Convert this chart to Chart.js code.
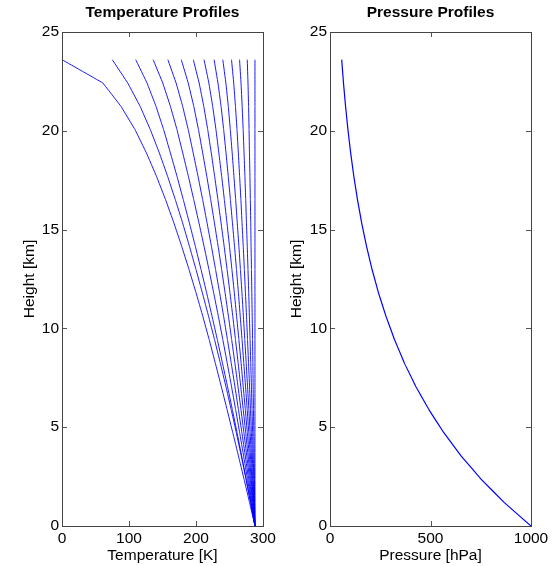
<!DOCTYPE html>
<html><head><meta charset="utf-8">
<script src="https://cdn.jsdelivr.net/npm/chart.js@4.4.0/dist/chart.umd.min.js"></script>
<style>
html,body{margin:0;padding:0;background:#fff;}
#wrap{position:relative;width:560px;height:566px;overflow:hidden;}
canvas{position:absolute;top:0;}
</style></head><body>
<div id="wrap">
<canvas id="t" width="280" height="566" style="left:0"></canvas>
<canvas id="p" width="280" height="566" style="left:280px"></canvas>
</div>
<script>
// ---------- data ----------
const heightKm = [0, 1.18, 2.36, 3.54, 4.72, 5.9, 7.08, 8.26, 9.44, 10.62, 11.8, 12.98, 14.16, 15.34, 16.52, 17.7, 18.88, 20.06, 21.24, 22.42, 23.6];

const tempK01 = [288, 280, 271.8, 263.4, 254.9, 246.3, 237.6, 228.7, 219.6, 210.1, 200.1, 189.6, 178.6, 167, 154.5, 141, 126, 109, 88, 61, 0];
const tempK02 = [288, 281.5, 274.7, 267.6, 260.2, 252.5, 244.5, 236.2, 227.6, 218.7, 209.5, 200, 190.2, 180, 169.1, 157.6, 145.3, 131.8, 116.6, 98.1, 75];
const tempK03 = [288, 281.6, 275.0, 268.2, 261.3, 254.2, 246.9, 239.4, 231.8, 223.9, 215.9, 207.5, 199, 190.1, 181, 171.6, 161.8, 151.7, 140.3, 126.9, 110];
const tempK04 = [288, 282.5, 276.9, 271.1, 265.2, 259.1, 252.9, 246.5, 240, 233.3, 226.4, 219.3, 212, 204.4, 196.6, 188.6, 180.2, 171.6, 161.8, 150.4, 136];
const tempK05 = [288, 283.3, 278.5, 273.6, 268.5, 263.3, 258, 252.5, 246.9, 241.2, 235.3, 229.2, 223, 216.5, 209.9, 203, 195.8, 188.4, 180.1, 170.3, 158];
const tempK06 = [288, 284, 280, 275.8, 271.5, 267.1, 262.6, 258, 253.2, 248.4, 243.4, 238.3, 233, 227.5, 221.9, 216.1, 210, 203.7, 196.7, 188.4, 178];
const tempK07 = [288, 284.7, 281.3, 277.8, 274.2, 270.5, 266.7, 262.9, 258.9, 254.9, 250.7, 246.4, 242, 237.4, 232.7, 227.8, 222.8, 217.5, 211.6, 204.7, 196];
const tempK08 = [288, 285.3, 282.5, 279.6, 276.6, 273.6, 270.4, 267.3, 264, 260.6, 257.2, 253.6, 250, 246.2, 242.3, 238.3, 234.1, 229.8, 224.9, 219.2, 212];
const tempK09 = [288, 285.8, 283.5, 281.2, 278.8, 276.4, 273.9, 271.3, 268.7, 266, 263.3, 260.4, 257.5, 254.4, 251.3, 248.1, 244.8, 241.3, 237.4, 232.8, 227];
const tempK10 = [288, 286.3, 284.5, 282.7, 280.8, 278.9, 276.9, 274.9, 272.8, 270.7, 268.6, 266.3, 264, 261.6, 259.2, 256.6, 254, 251.2, 248.2, 244.6, 240];
const tempK11 = [288, 286.7, 285.4, 284.1, 282.7, 281.3, 279.9, 278.4, 276.9, 275.4, 273.8, 272.2, 270.5, 268.7, 267, 265.1, 263.2, 261.2, 258.9, 256.3, 253];
const tempK12 = [288, 287.2, 286.3, 285.4, 284.5, 283.6, 282.7, 281.7, 280.7, 279.7, 278.7, 277.6, 276.5, 275.3, 274.2, 273, 271.7, 270.4, 268.9, 267.2, 265];
const tempK13 = [288, 287.6, 287.2, 286.7, 286.3, 285.8, 285.3, 284.9, 284.4, 283.9, 283.3, 282.8, 282.2, 281.7, 281.1, 280.5, 279.8, 279.2, 278.5, 277.6, 276.5];
const tempK14 = [288, 288, 288, 288, 288, 288, 288, 288, 288, 288, 288, 288, 288, 288, 288, 288, 288, 288, 288, 288, 288];

const pressureHpa = [1000, 867.5, 752.5, 652.8, 566.3, 491.2, 426.1, 369.6, 320.7, 278.2, 241.3, 209.3, 181.6, 157.5, 136.6, 118.5, 102.8, 89.2, 77.4, 67.1, 58.2];

const tempTicks = [0, 100, 200, 300];
const pressureTicks = [0, 500, 1000];
const heightTicks = [0, 5, 10, 15, 20, 25];

// ---------- helpers ----------
const FONT = "'Liberation Sans', Arial, Helvetica, sans-serif";
const BLUE = 'rgb(0,0,255)';
const toPoints = (xs, ys) => xs.map((v, i) => ({x: v, y: ys[i]}));
const plain = v => String(v);

const framePlugin = {
  id: 'frame',
  afterDatasetsDraw(chart) {
    const {ctx, chartArea: a, scales: {x, y}} = chart;
    const L = 5;
    ctx.save();
    ctx.strokeStyle = '#555';
    ctx.lineWidth = 1;
    ctx.beginPath();
    x.ticks.forEach(t => {
      const px = Math.round(x.getPixelForValue(t.value)) + 0.5;
      ctx.moveTo(px, a.bottom); ctx.lineTo(px, a.bottom - L);
      ctx.moveTo(px, a.top); ctx.lineTo(px, a.top + L);
    });
    y.ticks.forEach(t => {
      const py = Math.round(y.getPixelForValue(t.value)) + 0.5;
      ctx.moveTo(a.left, py); ctx.lineTo(a.left + L, py);
      ctx.moveTo(a.right, py); ctx.lineTo(a.right - L, py);
    });
    ctx.stroke();
    ctx.strokeStyle = '#444';
    ctx.strokeRect(a.left + 0.5, a.top + 0.5, a.right - a.left, a.bottom - a.top);
    ctx.restore();
  }
};

function makeChart(id, cfg) {
  return new Chart(document.getElementById(id), {
    type: 'scatter',
    data: {datasets: cfg.series.map(s => ({
      data: toPoints(s, heightKm),
      showLine: true, borderColor: BLUE, borderWidth: cfg.lw, pointRadius: 0,
      tension: 0.000001, fill: false
    }))},
    options: {
      responsive: false, animation: false, events: [],
      layout: {padding: {left: 0, right: cfg.padRight, top: 0, bottom: 0}},
      plugins: {
        legend: {display: false}, tooltip: {enabled: false},
        title: {display: true, text: cfg.title, fullSize: false, color: '#000',
          font: {family: FONT, size: 15.5, weight: 'bold'}, padding: {top: 3, bottom: 10.4}}
      },
      scales: {
        x: {
          type: 'linear', min: cfg.xMin, max: cfg.xMax,
          afterBuildTicks: s => { s.ticks = cfg.xTicks.map(v => ({value: v})); },
          afterFit: s => { s.height = 40; },
          grid: {display: false, drawTicks: false}, border: {display: false},
          ticks: {color: '#000', font: {family: FONT, size: 15.5}, padding: 3, maxRotation: 0, autoSkip: false, callback: plain},
          title: {display: true, text: cfg.xTitle, color: '#000', font: {family: FONT, size: 15.5}, padding: {top: 0, bottom: 0.5}}
        },
        y: {
          type: 'linear', min: 0, max: 25,
          afterBuildTicks: s => { s.ticks = heightTicks.map(v => ({value: v})); },
          afterFit: s => { s.width = cfg.yWidth; },
          grid: {display: false, drawTicks: false}, border: {display: false},
          ticks: {color: '#000', font: {family: FONT, size: 15.5}, padding: 3, autoSkip: false, callback: plain},
          title: {display: true, text: 'Height [km]', color: '#000', font: {family: FONT, size: 15.5}, padding: {top: cfg.yTitlePad, bottom: 0}}
        }
      }
    },
    plugins: [framePlugin]
  });
}

makeChart('t', {
  series: [tempK01, tempK02, tempK03, tempK04, tempK05, tempK06, tempK07, tempK08, tempK09, tempK10, tempK11, tempK12, tempK13, tempK14],
  lw: 0.9, title: 'Temperature Profiles', xTitle: 'Temperature [K]',
  xMin: 0, xMax: 300, xTicks: tempTicks, yWidth: 62, padRight: 17, yTitlePad: 20.7
});
makeChart('p', {
  series: [pressureHpa],
  lw: 1.2, title: 'Pressure Profiles', xTitle: 'Pressure [hPa]',
  xMin: 0, xMax: 1000, xTicks: pressureTicks, yWidth: 50, padRight: 29, yTitlePad: 7.7
});
</script>
</body></html>
